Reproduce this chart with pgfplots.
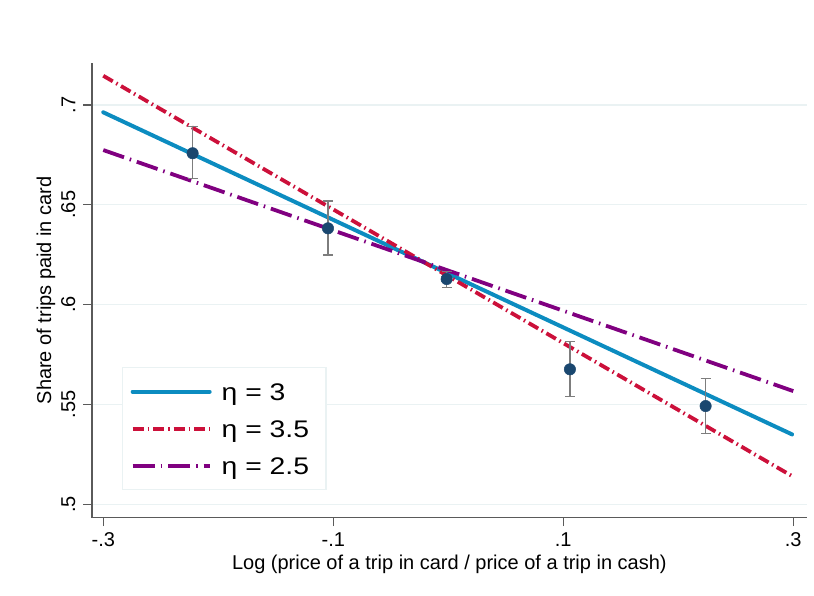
\documentclass[border=0pt]{standalone}
\usepackage{fontspec}
\setmainfont{Liberation Sans}
\newfontfamily\legfont[FakeStretch=1.18]{Liberation Sans}
\usepackage{pgfplots}
\pgfplotsset{compat=1.18}
\definecolor{lblue}{RGB}{12,140,192}
\definecolor{lred}{RGB}{204,16,58}
\definecolor{lpurple}{RGB}{128,0,128}
\definecolor{mnavy}{RGB}{26,71,111}
\definecolor{gridc}{RGB}{234,242,243}
\definecolor{axc}{RGB}{90,90,90}
\definecolor{errc}{RGB}{125,125,125}
\begin{document}
\begin{tikzpicture}
\path[use as bounding box] (0,0) rectangle (814pt,596pt);
\begin{axis}[
  at={(92pt,78.3pt)}, anchor=south west,
  scale only axis, width=714.7pt, height=454.7pt,
  xmin=-0.3098, xmax=0.3117, ymin=0.4933, ymax=0.721,
  axis x line*=bottom, axis y line*=left,
  axis line style={axc, line width=1.6pt},
  tick style={axc, line width=1.3pt},
  tick align=outside, major tick length=8.5pt,
  xtick={-0.3,-0.1,0.1,0.3}, xticklabels={-.3,-.1,.1,.3},
  ytick={0.5,0.55,0.6,0.65,0.7}, yticklabels={.5,.55,.6,.65,.7},
  minor tick num=0,
  ymajorgrids, grid style={gridc, line width=1.3pt},
  tick label style={font=\fontsize{20}{24}\selectfont, inner sep=0pt},
  xticklabel style={anchor=base, yshift=-20pt},
  yticklabel style={xshift=-8pt, rotate=90, anchor=south},
  label style={font=\fontsize{20}{24}\selectfont, inner sep=0pt},
  xlabel={Log (price of a trip in card / price of a trip in cash)},
  ylabel={Share of trips paid in card},
  xlabel style={at={(axis description cs:0.5,-0.1135)}, anchor=base},
  ylabel style={at={(axis description cs:-0.0573,0.5)}, anchor=base},
  legend style={at={(0.042,0.3314)}, anchor=north west, draw=gridc, line width=1.3pt,
    font=\legfont\fontsize{24}{28}\selectfont, inner xsep=8pt, inner ysep=12.5pt,
    row sep=14pt, column sep=10pt,
    nodes={inner sep=0pt, text height=20pt, text depth=3pt}},
  legend cell align=left,
  legend image code/.code={\draw[#1] (0pt,0pt) -- (77pt,0pt);},
]
\addplot[lblue, line width=4pt, line cap=round] coordinates {(-0.3,0.6963) (0.299,0.535)};
\addlegendentry{η = 3}
\addplot[lred, line width=3.8pt, dash pattern=on 11pt off 4pt on 1.5pt off 4pt] coordinates {(-0.3,0.7146) (0.3,0.5138)};
\addlegendentry{η = 3.5\kern9pt\null}
\addplot[lpurple, line width=3.8pt, dash pattern=on 22pt off 6pt on 1.5pt off 6pt] coordinates {(-0.3,0.6774) (0.3,0.5567)};
\addlegendentry{η = 2.5\kern9pt\null}
\addplot[only marks, mark=*, mark size=5.7pt, mark options={fill=mnavy, draw=mnavy, line width=0.5pt},
  error bars/.cd, y dir=both, y explicit,
  error bar style={errc, line width=1.3pt},
  error mark options={rotate=90, errc, mark size=5pt, line width=1.3pt}]
  coordinates {
  (-0.2223,0.6758) += (0,0.0133) -= (0,0.0125)
  (-0.1046,0.6382) += (0,0.0137) -= (0,0.0133)
  (-0.0014,0.6128) += (0,0.0037) -= (0,0.0041)
  (0.1058,0.5676) += (0,0.0138) -= (0,0.0137)
  (0.2238,0.5492) += (0,0.0137) -= (0,0.0138)
  };
\end{axis}
\end{tikzpicture}
\end{document}
